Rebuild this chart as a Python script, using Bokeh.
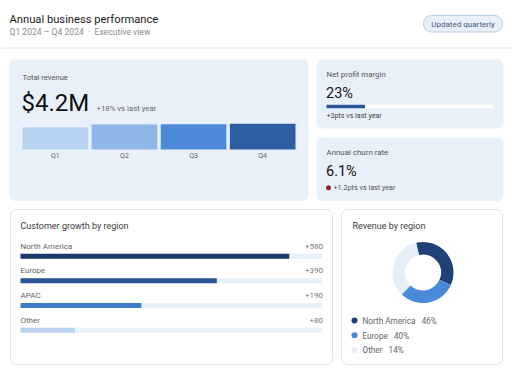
from bokeh.plotting import figure
from bokeh.models import Range1d
from bokeh.core.properties import value
from bokeh.embed import file_html
from bokeh.resources import INLINE

# ---------------- data ----------------
title = "Annual business performance"
subtitle = "Q1 2024 – Q4 2024 \u00a0·\u00a0 Executive view"
badge_text = "Updated quarterly"

quarters = ["Q1", "Q2", "Q3", "Q4"]
revenue_m = [0.95, 1.07, 1.08, 1.10]          # quarterly revenue, $M
revenue_total = "$4.2M"
revenue_change = "+18% vs last year"

margin_pct = 23
margin_change = "+3pts vs last year"
churn_pct = 6.1
churn_change = "+1.2pts vs last year"

regions = ["North America", "Europe", "APAC", "Other"]
growth = [580, 390, 190, 80]
growth_bar_pct = [89, 65, 40, 18]              # bar length as drawn, % of track

share_regions = ["North America", "Europe", "Other"]
share_pct = [46, 40, 14]
ring_pct = [35.3, 30.6, 34.1]                  # ring arc extent as drawn, %

# ---------------- styles ----------------
W, H = 512, 376
FONT = "Roboto"
CARD = "#e8f0fa"
rev_colors = ["#b9d4f3", "#8fb6e8", "#4c8ad9", "#2d5fa2"]
growth_colors = ["#1b3a6b", "#2a5597", "#3f7ccc", "#bcd4ee"]
share_colors = ["#1f4178", "#4a88d8", "#e5edf8"]
BASE_FIX = 0.3   # em shift to land the alphabetic baseline where intended


def Y(t):
    return H - t


def lin_range(d0, d1, p0, p1, L):
    s = (d1 - d0) / (p1 - p0)
    start = d0 - p0 * s
    return Range1d(start=start, end=start + L * s)


p = figure(width=W, height=H, x_range=Range1d(0, W), y_range=Range1d(0, H),
           x_axis_type=None, y_axis_type=None, toolbar_location=None,
           output_backend="svg", min_border=0, outline_line_color=None,
           background_fill_color="white", border_fill_color="white")
p.grid.visible = False


def box(l, t, r, b, fill, line=None, radius=6, lw=1):
    kw = dict(left=[l], right=[r], top=[Y(t)], bottom=[Y(b)],
              fill_color=fill, line_color=line, line_width=lw)
    try:
        p.quad(border_radius=radius, **kw)
    except Exception:
        p.quad(**kw)


def txt(x, t, s, size, color, align="left"):
    p.text(x=[x], y=[Y(t - BASE_FIX * size)], text=[s], text_font=value(FONT),
           text_font_size=f"{size}px", text_color=color, text_align=align,
           text_baseline="alphabetic")


# ---------------- header ----------------
txt(9, 22, title, 11.2, "#1b1b1b")
txt(9, 34, subtitle, 8.6, "#8c8c8c")
box(423, 15, 502, 31.5, "#e9f0fa", "#b9cde6", radius=8)
txt(462.5, 26.5, badge_text, 8, "#3d5a80", align="center")
p.segment(x0=[0], x1=[W], y0=[Y(47.5)], y1=[Y(47.5)], line_color="#e6e6e6", line_width=1)

# ---------------- total revenue card ----------------
box(9, 59, 308, 200.5, CARD)
txt(22, 79, "Total revenue", 7.6, "#555555")
txt(21, 110, revenue_total, 24, "#111111")
txt(96, 110, revenue_change, 7.8, "#666666")

p.extra_x_ranges["rev_x"] = lin_range(-0.475, 3.475, 22, 295, W)
p.extra_y_ranges["rev_y"] = lin_range(0, max(revenue_m), H - 149, H - 123.3, H)
idx = list(range(len(quarters)))
p.vbar(x=idx, top=revenue_m, bottom=0, width=0.95, fill_color=rev_colors,
       line_color=None, x_range_name="rev_x", y_range_name="rev_y")
p.text(x=idx, y=[Y(158 - BASE_FIX * 7)] * len(idx), text=quarters, x_range_name="rev_x",
       text_font=value(FONT), text_font_size="7px", text_color="#666666",
       text_align="center", text_baseline="alphabetic")

# ---------------- net profit margin card ----------------
box(316, 59, 503, 128, CARD)
txt(326, 76, "Net profit margin", 7.9, "#555555")
txt(325.5, 97.3, f"{margin_pct}%", 14.5, "#111111")
p.extra_x_ranges["m_x"] = lin_range(0, 100, 326, 493, W)
p.hbar(y=[Y(106)], left=[0], right=[100], height=3.5, fill_color="white",
       line_color=None, x_range_name="m_x")
p.hbar(y=[Y(106)], left=[0], right=[margin_pct], height=3.5, fill_color="#2a5597",
       line_color=None, x_range_name="m_x")
txt(326, 117.5, margin_change, 7.1, "#444444")

# ---------------- churn card ----------------
box(316, 137, 503, 200.5, CARD)
txt(326, 154, "Annual churn rate", 7.9, "#555555")
txt(325.5, 175, f"{churn_pct}%", 14.5, "#111111")
p.scatter(x=[328], y=[Y(187.3)], size=5, fill_color="#9b1b30", line_color=None)
txt(333, 189.5, churn_change, 7.2, "#555555")

# ---------------- customer growth card ----------------
box(10, 209, 332, 364, "white", "#e2e2e2", radius=6)
txt(20, 227.7, "Customer growth by region", 9, "#3a3a3a")
p.extra_x_ranges["g_x"] = lin_range(0, 100, 20, 322, W)
ROW0, ROW_STEP = 255.7, 24.67
for i, (reg, g, pct, col) in enumerate(zip(regions, growth, growth_bar_pct, growth_colors)):
    t = ROW0 + i * ROW_STEP
    txt(20, t - 7.5, reg, 8, "#666666")
    txt(322.5, t - 7.5, f"+{g}", 8, "#777777", align="right")
    rr = dict(y=[Y(t)], left=[0], height=5, line_color=None, x_range_name="g_x")
    try:
        p.hbar(right=[100], fill_color="#e8f0fa", border_radius=2.5, **rr)
        p.hbar(right=[pct], fill_color=col, border_radius=2.5, **rr)
    except Exception:
        p.hbar(right=[100], fill_color="#e8f0fa", **rr)
        p.hbar(right=[pct], fill_color=col, **rr)

# ---------------- revenue by region card ----------------
box(341, 209, 502, 364, "white", "#e2e2e2", radius=6)
txt(352, 227.7, "Revenue by region", 9, "#3a3a3a")
CX, CY, R_IN, R_OUT, START = 422.5, 272, 18, 30.5, -13
starts, ends = [], []
acc = START
for v in ring_pct:
    starts.append(90 - acc)
    acc += v * 3.6
    ends.append(90 - acc)
p.annular_wedge(x=[CX] * 3, y=[Y(CY)] * 3, inner_radius=R_IN, outer_radius=R_OUT,
                start_angle=starts, end_angle=ends, start_angle_units="deg",
                end_angle_units="deg", direction="clock", fill_color=share_colors,
                line_color=None)
LEG0, LEG_STEP = 320, 14.7
for i, (reg, s, col) in enumerate(zip(share_regions, share_pct, share_colors)):
    t = LEG0 + i * LEG_STEP
    p.scatter(x=[354], y=[Y(t)], size=6, fill_color=col, line_color=None)
    txt(362, t + 3, f"{reg}\u00a0\u00a0\u00a0{s}%", 8.2, "#666666")

open("out.html", "w").write(file_html(p, INLINE))
